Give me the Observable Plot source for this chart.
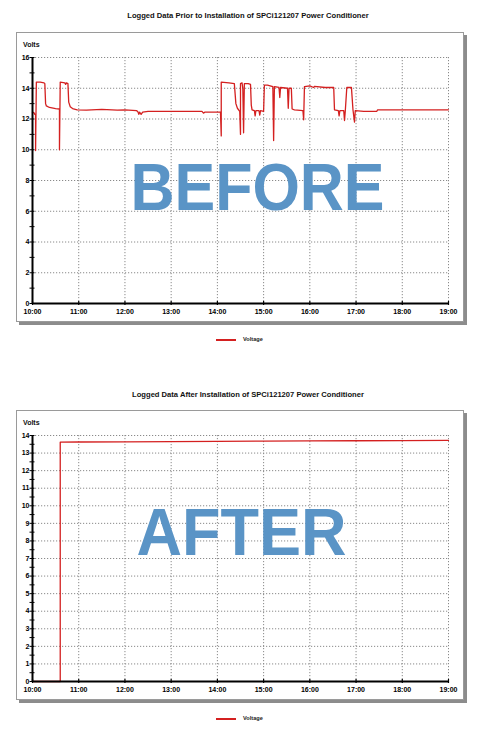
<!DOCTYPE html>
<html><head><meta charset="utf-8">
<script src="https://cdn.jsdelivr.net/npm/d3@7"></script>
<script src="https://cdn.jsdelivr.net/npm/@observablehq/plot@0.6"></script>
<style>
body{margin:0;background:#fff;font-family:"Liberation Sans",Arial,sans-serif;}
#page{position:relative;width:480px;height:729px;overflow:hidden;background:#fff}
.title{position:absolute;left:0;width:496px;text-align:center;font-size:7.6px;font-weight:bold;color:#111;line-height:9px}
.panel{position:absolute;left:16px;width:446px;height:288px;border:1px solid #9a9a9a;box-shadow:3px 3px 0 #8c8c8c;background:#fff}
.panel svg{position:absolute;left:0;top:0;overflow:visible}
.volts{position:absolute;left:6px;top:8px;font-size:7px;font-weight:bold;line-height:8px;color:#111}
.legend{position:absolute;left:216px;height:8px}
.legend .ln{position:absolute;left:0;top:3px;width:20px;height:1.5px;background:#d42020}
.legend .tx{position:absolute;left:27px;top:0;font-size:5.6px;font-weight:bold;line-height:7px;color:#222;white-space:nowrap}
</style></head>
<body><div id="page"></div>
<script>
// ---- data ----
const titles = [
  "Logged Data Prior to Installation of SPCi121207 Power Conditioner",
  "Logged Data After Installation of SPCi121207 Power Conditioner"
];
const stamps = ["BEFORE", "AFTER"];
const yLabel = "Volts";
const seriesName = "Voltage";
const hourTicks = ["10:00","11:00","12:00","13:00","14:00","15:00","16:00","17:00","18:00","19:00"];

const beforeTimes = [
  "10:00","10:02","10:03","10:04","10:04","10:05","10:10","10:15","10:16","10:17",
  "10:18","10:22","10:30","10:35","10:35","10:36","10:42","10:43","10:44","10:46",
  "10:47","10:49","10:52","10:58","11:10","11:30","11:50","12:00","12:15","12:17",
  "12:18","12:19","12:21","12:23","12:30","13:00","13:30","13:40","13:42","13:44",
  "14:04","14:05","14:05","14:15","14:22","14:24","14:26","14:29","14:30","14:30",
  "14:32","14:33","14:34","14:35","14:40","14:43","14:44","14:45","14:48","14:49",
  "14:50","14:54","14:55","14:56","15:00","15:01","15:05","15:12","15:13","15:14",
  "15:20","15:21","15:22","15:31","15:32","15:33","15:36","15:37","15:40","15:51",
  "15:52","15:53","16:00","16:05","16:06","16:20","16:31","16:32","16:37","16:38",
  "16:39","16:44","16:45","16:46","16:48","16:54","16:56","16:58","16:59","17:10",
  "17:27","17:28","18:00","19:00"
];
const beforeVolts = [
  12.45,12.40,12.30,12.30,9.95,14.40,14.40,14.35,14.30,13.00,
  12.85,12.75,12.68,12.65,10.00,14.40,14.35,14.25,14.35,14.30,
  13.10,12.80,12.68,12.60,12.58,12.62,12.58,12.60,12.55,12.45,
  12.30,12.45,12.30,12.45,12.50,12.50,12.50,12.50,12.38,12.45,
  12.45,10.90,14.40,14.35,14.30,13.00,12.70,12.50,11.00,14.30,
  14.35,14.00,11.10,14.30,14.30,14.25,12.90,12.60,12.55,12.20,
  12.55,12.55,12.25,12.55,12.50,14.20,14.20,14.10,10.60,14.10,
  14.05,13.40,14.05,14.00,12.70,14.00,14.00,12.65,12.60,12.55,
  11.95,14.10,14.15,14.05,14.12,14.05,14.05,12.60,12.55,12.20,
  12.55,12.55,11.90,12.50,14.05,14.05,12.60,11.80,12.55,12.50,
  12.50,12.60,12.60,12.60
];
const afterTimes = ["10:00","10:36","10:36","11:00","12:00","13:00","14:00","15:00","16:00","17:00","18:00","19:00"];
const afterVolts = [0,0,13.62,13.63,13.64,13.65,13.67,13.68,13.69,13.70,13.71,13.72];

const beforeYTicks = [0,2,4,6,8,10,12,14,16];
const beforeYMinor = [0,1,2,3,4,5,6,7,8,9,10,11,12,13,14,15,16];
const afterYTicks = [0,1,2,3,4,5,6,7,8,9,10,11,12,13,14];
const afterYMinor = [0,0.5,1,1.5,2,2.5,3,3.5,4,4.5,5,5.5,6,6.5,7,7.5,8,8.5,9,9.5,10,10.5,11,11.5,12,12.5,13,13.5,14];

// ---- build ----
const parse = d3.utcParse("%H:%M");
const fmt = d3.utcFormat("%H:%M");
const page = document.getElementById("page");
const FONT = '"Liberation Sans", Arial, sans-serif';
const RED = "#d42020";
const BLUE = "#5a94c6";

function chart({title, titleTop, panelTop, legendTop, times, volts, yMax, yTicks, yMinor, stamp, stampDx, stampDy, stampWidth}) {
  const t = document.createElement("div");
  t.className = "title"; t.style.top = titleTop + "px"; t.textContent = title;
  page.appendChild(t);

  const panel = document.createElement("div");
  panel.className = "panel"; panel.style.top = panelTop + "px";
  const v = document.createElement("div");
  v.className = "volts"; v.textContent = yLabel;
  panel.appendChild(v);

  const data = times.map((s, i) => ({t: parse(s), v: volts[i]}));
  const xt = hourTicks.map(parse);
  const x0 = xt[0], x1 = xt[xt.length - 1];

  const svg = Plot.plot({
    width: 446, height: 288,
    marginLeft: 15, marginRight: 15, marginTop: 24, marginBottom: 18,
    style: {fontFamily: FONT, background: "transparent", overflow: "visible"},
    x: {type: "utc", domain: [x0, x1], label: null},
    y: {domain: [0, yMax], label: null},
    marks: [
      Plot.gridX(xt, {stroke: "#8a8a8a", strokeOpacity: 1, strokeDasharray: "1.2,1.8", strokeWidth: 1}),
      Plot.gridY(yTicks, {stroke: "#8a8a8a", strokeOpacity: 1, strokeDasharray: "1.2,1.8", strokeWidth: 1}),
      Plot.text([stamp], {frameAnchor: "middle", dx: stampDx, dy: stampDy, fill: BLUE,
        fontSize: 67, fontWeight: "bold", fontFamily: FONT, className: "stamp"}),
      Plot.line(data, {x: "t", y: "v", stroke: RED, strokeWidth: 1.3, curve: "linear"}),
      Plot.ruleX([x0], {stroke: "#000", strokeWidth: 2}),
      Plot.ruleY([0], {stroke: "#000", strokeWidth: 2}),
      Plot.axisY(yMinor, {tickSize: 5, dx: 2.5, label: null, tickFormat: () => "", stroke: "#000", strokeWidth: 1}),
      Plot.axisY(yTicks, {tickSize: 0, tickPadding: 3, label: null, fontSize: 7, fontWeight: "bold", fill: "black"}),
      Plot.axisX(xt, {tickSize: 4, dy: -2, label: null, tickFormat: () => "", stroke: "#000", strokeWidth: 1.2}),
      Plot.axisX(xt, {tickSize: 0, tickPadding: 6, label: null, tickFormat: fmt, fontSize: 7, fontWeight: "bold", fill: "black"})
    ]
  });
  svg.querySelectorAll("text").forEach(el => {
    if (el.textContent === stamp) {
      el.setAttribute("textLength", stampWidth);
      el.setAttribute("lengthAdjust", "spacingAndGlyphs");
    }
  });
  panel.appendChild(svg);
  page.appendChild(panel);

  const lg = document.createElement("div");
  lg.className = "legend"; lg.style.top = legendTop + "px";
  lg.innerHTML = '<div class="ln"></div><div class="tx"></div>';
  lg.querySelector(".tx").textContent = seriesName;
  page.appendChild(lg);
}

chart({title: titles[0], titleTop: 11, panelTop: 32, legendTop: 336,
  times: beforeTimes, volts: beforeVolts, yMax: 16, yTicks: beforeYTicks, yMinor: beforeYMinor,
  stamp: stamps[0], stampDx: 17, stampDy: 8, stampWidth: 254});
chart({title: titles[1], titleTop: 390, panelTop: 410, legendTop: 715,
  times: afterTimes, volts: afterVolts, yMax: 14, yTicks: afterYTicks, yMinor: afterYMinor,
  stamp: stamps[1], stampDx: 1, stampDy: -25, stampWidth: 210});
</script>
</body></html>
